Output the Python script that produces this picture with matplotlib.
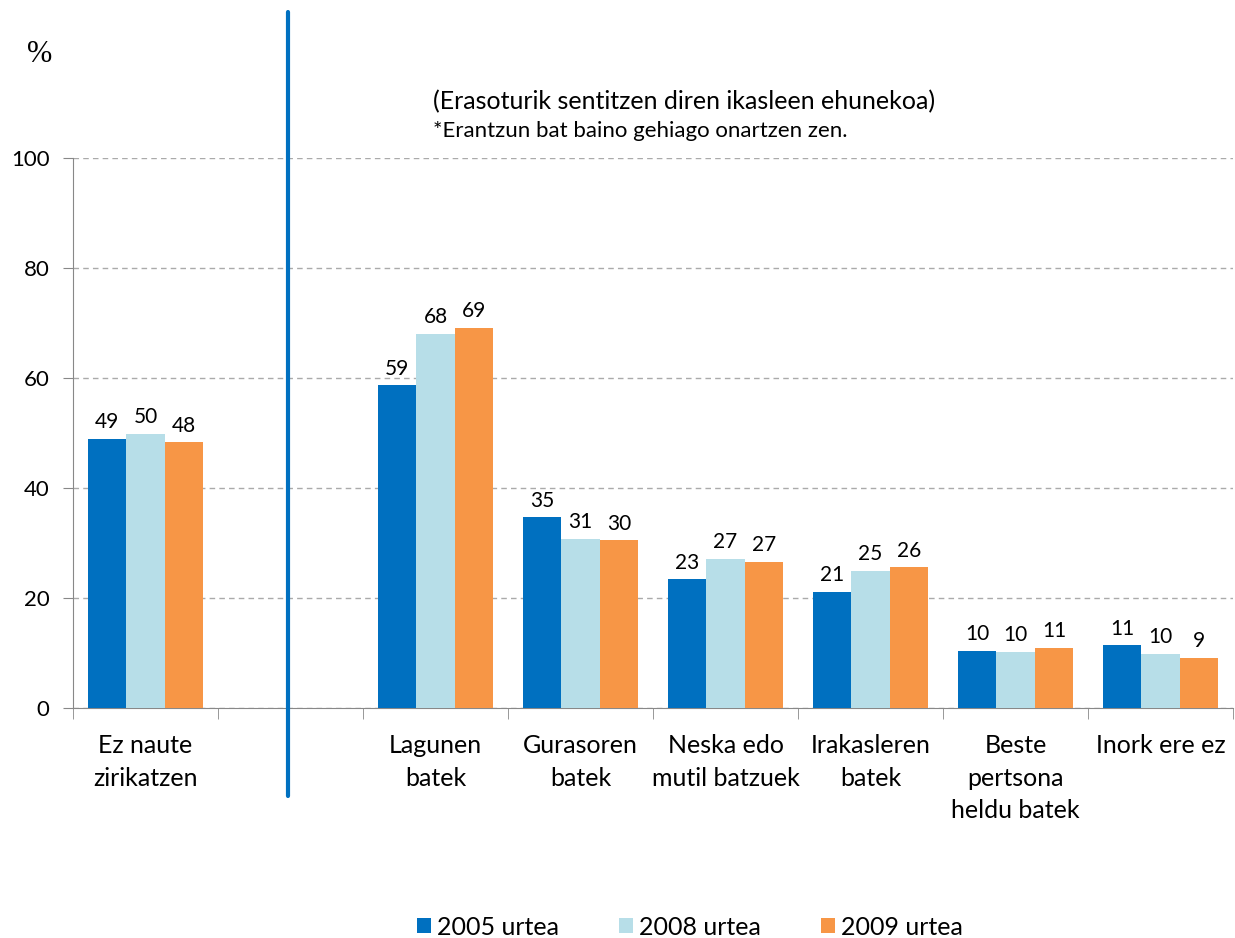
import matplotlib.pyplot as plt
import matplotlib.lines as mlines
import numpy as np

# categories (empty slot after the first one, where the divider line sits)
categories = ["Ez naute\nzirikatzen", "", "Lagunen\nbatek", "Gurasoren\nbatek",
              "Neska edo\nmutil batzuek", "Irakasleren\nbatek",
              "Beste\npertsona\nheldu batek", "Inork ere ez"]
series_names = ["2005 urtea", "2008 urtea", "2009 urtea"]
v2005 = [48.9, None, 58.7, 34.7, 23.4, 21.1, 10.4, 11.4]
v2008 = [49.9, None, 68.0, 30.8, 27.1, 24.9, 10.2, 9.9]
v2009 = [48.3, None, 69.1, 30.5, 26.6, 25.6, 10.9, 9.1]
colors = ["#0070C0", "#B7DEE8", "#F79646"]

plt.rcParams['font.family'] = ['Lato', 'DejaVu Sans']

fig = plt.figure(figsize=(12.35, 9.38), dpi=100)
ax = fig.add_axes([73 / 1235, 1 - 708 / 938, 1160 / 1235, 550 / 938])

x = np.arange(len(categories))
w = 0.265
for i, (vals, name, c) in enumerate(zip([v2005, v2008, v2009], series_names, colors)):
    xs = [xi + (i - 1) * w for xi, v in zip(x, vals) if v is not None]
    hs = [v for v in vals if v is not None]
    ax.bar(xs, hs, width=w, color=c, label=name, zorder=3)
    for xx, h in zip(xs, hs):
        ax.text(xx, h + 1.2, f"{round(h):.0f}", ha='center', va='bottom', fontsize=15)

ax.set_xlim(-0.5, len(categories) - 0.5)
ax.set_ylim(0, 100)
ax.set_yticks(range(0, 101, 20))
ax.tick_params(axis='y', labelsize=16, length=7, color='#888888', pad=10)
ax.set_xticks(x)
ax.set_xticklabels(categories, fontsize=18, linespacing=1.5, va='top')
ax.tick_params(axis='x', which='major', length=0, pad=19)
ax.set_xticks(np.arange(-0.5, len(categories), 1), minor=True)
ax.tick_params(axis='x', which='minor', length=8, color='#888888')

ax.yaxis.grid(True, linestyle=(0, (4, 3)), color='#AAAAAA', linewidth=1, zorder=0)
for s in ['top', 'right']:
    ax.spines[s].set_visible(False)
ax.spines['left'].set_color('#888888')
ax.spines['bottom'].set_color('#888888')

fig.text(40 / 1235, 1 - 55 / 938, "%", fontsize=22, ha='center', va='center',
         family=['Liberation Serif', 'DejaVu Serif'])
fig.text(433 / 1235, 1 - 102 / 938, "(Erasoturik sentitzen diren ikasleen ehunekoa)",
         fontsize=18, va='center')
fig.text(433 / 1235, 1 - 131 / 938, "*Erantzun bat baino gehiago onartzen zen.",
         fontsize=16, va='center')

# blue divider line
fig.add_artist(mlines.Line2D([288 / 1235, 288 / 1235], [1 - 12 / 938, 1 - 796 / 938],
                             color='#0070C0', linewidth=3, solid_capstyle='round'))

fig.legend(loc='center', bbox_to_anchor=(690 / 1235, 1 - 927 / 938), ncol=3,
           frameon=False, fontsize=18, handlelength=0.55, handleheight=0.55,
           handletextpad=0.25, columnspacing=2.4)

fig.savefig("out.png", dpi=100)
